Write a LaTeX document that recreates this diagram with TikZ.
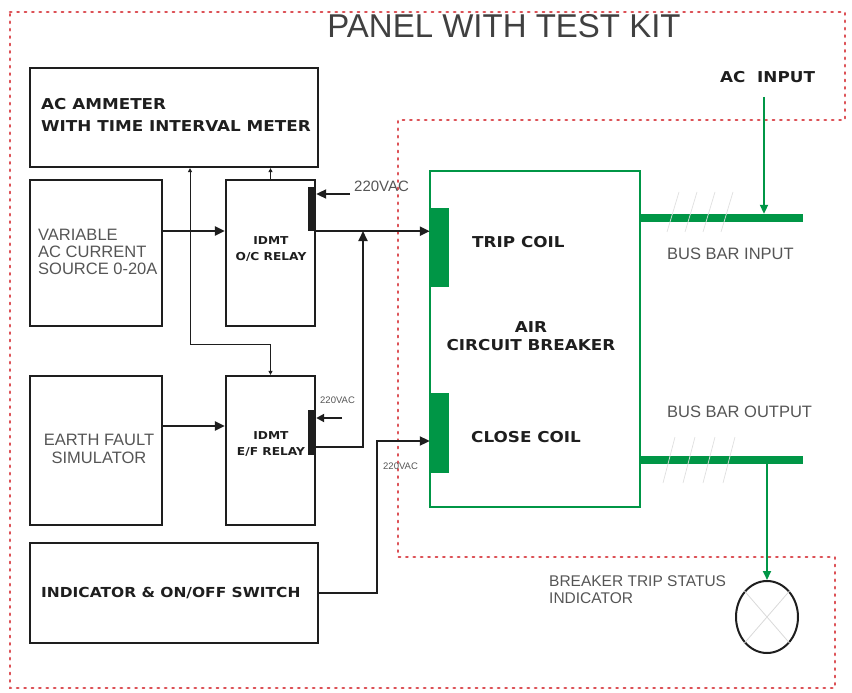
\documentclass[tikz,border=0pt]{standalone}
\usepackage{fontspec}
\setmainfont{Liberation Sans}
\newfontfamily\bfont{DejaVu Sans}[FakeStretch=1.12]
\usetikzlibrary{arrows.meta,shapes.geometric,calc}
\definecolor{grn}{RGB}{0,150,70}
\definecolor{brd}{RGB}{220,80,85}
\definecolor{txt}{RGB}{85,85,85}
\definecolor{ink}{RGB}{30,30,30}
\begin{document}
\begin{tikzpicture}[x=1pt,y=-1pt,
  box/.style={draw=ink,line width=2.2pt,rectangle,inner sep=0pt},
  bar/.style={fill=ink,rectangle,inner sep=0pt},
  coil/.style={fill=grn,rectangle,inner sep=0pt},
  blab/.style={font=\bfont\bfseries\fontsize{15}{18}\selectfont,text=ink,inner sep=0pt},
  slab/.style={font=\bfont\bfseries\fontsize{10.9}{16}\selectfont,text=ink,inner sep=0pt,align=center},
  rlab/.style={font=\fontsize{16.5}{17.3}\selectfont,text=txt,inner sep=0pt},
  tiny/.style={font=\fontsize{9.5}{10}\selectfont,text=txt,inner sep=0pt},
  arr/.style={draw=ink,line width=2pt,-{Triangle[length=10pt,width=9pt]}},
  sarr/.style={draw=ink,line width=2pt,-{Triangle[length=8pt,width=8pt]}},
  tarr/.style={draw=ink,line width=0.9pt,-{Triangle[length=4pt,width=4pt]}},
  tarr2/.style={draw=ink,line width=0.9pt,{Triangle[length=4pt,width=4pt]}-{Triangle[length=4pt,width=4pt]}},
  garr/.style={draw=grn,line width=2pt,-{Triangle[length=9pt,width=8pt]}},
  hatch/.style={draw=gray!25,line width=0.7pt}
]
\useasboundingbox (0,0) rectangle (852,693);

% panel border
\draw[brd,line width=2.6pt,line cap=round,dash pattern=on 1.4pt off 6pt]
  (10,12) -- (845,12) -- (845,120) -- (398,120) -- (398,557) -- (835,557) -- (835,688) -- (10,688) -- cycle;

\node[font=\fontsize{33}{36}\selectfont,text=black!75,inner sep=0pt] (title) at (504,26) {PANEL WITH TEST KIT};

% left boxes
\node[box,minimum width=288pt,minimum height=99pt] (amm) at (174,117.5) {};
\node[box,minimum width=132pt,minimum height=146pt] (var) at (96,253) {};
\node[box,minimum width=89pt,minimum height=146pt] (oc) at (270.5,253) {};
\node[box,minimum width=132pt,minimum height=149pt] (efs) at (96,450.5) {};
\node[box,minimum width=89pt,minimum height=149pt] (ef) at (270.5,450.5) {};
\node[box,minimum width=288pt,minimum height=100pt] (ind) at (174,593) {};
\node[bar,minimum width=8pt,minimum height=44pt] (ocbar) at (312,209) {};
\node[bar,minimum width=8pt,minimum height=45pt] (efbar) at (312,432.5) {};

% breaker
\node[draw=grn,line width=2pt,rectangle,inner sep=0pt,minimum width=210pt,minimum height=336pt] (acb) at (535,339) {};
\node[coil,minimum width=19pt,minimum height=79pt] (trip) at (439.5,247.5) {};
\node[coil,minimum width=19pt,minimum height=80pt] (close) at (439.5,433) {};
\node[coil,minimum width=163pt,minimum height=8pt] (busin) at (721.5,218) {};
\node[coil,minimum width=163pt,minimum height=8pt] (busout) at (721.5,460) {};
\node[draw=ink,line width=2pt,ellipse,inner sep=0pt,minimum width=62pt,minimum height=72pt] (lamp) at (767,617) {};
\draw[gray!30,line width=0.8pt] (lamp.north east) -- (lamp.south west) (lamp.north west) -- (lamp.south east);

% hatches
\foreach \h in {667,685,703,721} {\draw[hatch] (\h,232) -- (\h+12,192);}
\foreach \h in {663,683,703,723} {\draw[hatch] (\h,483) -- (\h+12,437);}

% texts
\node[blab,anchor=west] (t1) at (41,104) {AC AMMETER};
\node[blab,anchor=west] (t2) at (41,126) {WITH TIME INTERVAL METER};
\node[rlab,anchor=west,align=left] (t3) at (38,252) {VARIABLE\\AC CURRENT\\SOURCE 0-20A};
\node[rlab,align=center] (t4) at (99,449) {EARTH FAULT\\SIMULATOR};
\node[slab] (t5) at (271,249) {IDMT\\O/C RELAY};
\node[slab] (t6) at (271,444.5) {IDMT\\E/F RELAY};
\node[blab,font=\bfont\bfseries\fontsize{13.8}{16}\selectfont,anchor=west] (t7) at (41,593) {INDICATOR \& ON/OFF SWITCH};
\node[blab,anchor=west] (t8) at (472,242) {TRIP COIL};
\node[blab,align=center] (t9) at (531,336.5) {AIR\\CIRCUIT BREAKER};
\node[blab,anchor=west] (t10) at (471,437) {CLOSE COIL};
\node[blab,anchor=west] (t11) at (720,77) {AC\ \ INPUT};
\node[rlab,anchor=west] (t12) at (667,254) {BUS BAR INPUT};
\node[rlab,anchor=west] (t13) at (667,412) {BUS BAR OUTPUT};
\node[rlab,font=\fontsize{15.5}{17}\selectfont,anchor=west,align=left] (t14) at (549,590) {BREAKER TRIP STATUS\\INDICATOR};
\node[rlab,font=\fontsize{15}{17}\selectfont,anchor=west] (t15) at (354,186) {220VAC};
\node[tiny,anchor=west] (t16) at (320,400) {220VAC};
\node[tiny,anchor=west] (t17) at (383,466) {220VAC};

% connectors
\draw[arr] ([yshift=22pt]var.east) -- ([yshift=22pt]oc.west);
\draw[arr] ([yshift=24.5pt]efs.east) -- ([yshift=24.5pt]ef.west);
\coordinate (s1) at (350,194);
\draw[arr] (s1) -- (s1 -| ocbar.east);
\coordinate (s2) at (342,418);
\draw[sarr] (s2) -- (s2 -| efbar.east);
\draw[arr] (ocbar.south east) -- (ocbar.south east -| trip.west);
\coordinate (ocj) at (363,231);
\draw[arr] ([yshift=-14.5pt]efbar.east) -| (ocj);
\coordinate (ij) at (377,593);
\draw[arr] (ind.east) -- (ij) |- ([yshift=-8pt]close.west);
\draw[tarr] (oc.north) -- (oc.north |- amm.south);
\coordinate (kk) at (190,344);
\draw[tarr2] ([xshift=16pt]amm.south) -- (kk) -| (ef.north);
\coordinate (acin) at (764,97);
\draw[garr] (acin) -- (acin |- busin.north);
\draw[garr] (busout.south -| lamp.north) -- (lamp.north);
\end{tikzpicture}
\end{document}
